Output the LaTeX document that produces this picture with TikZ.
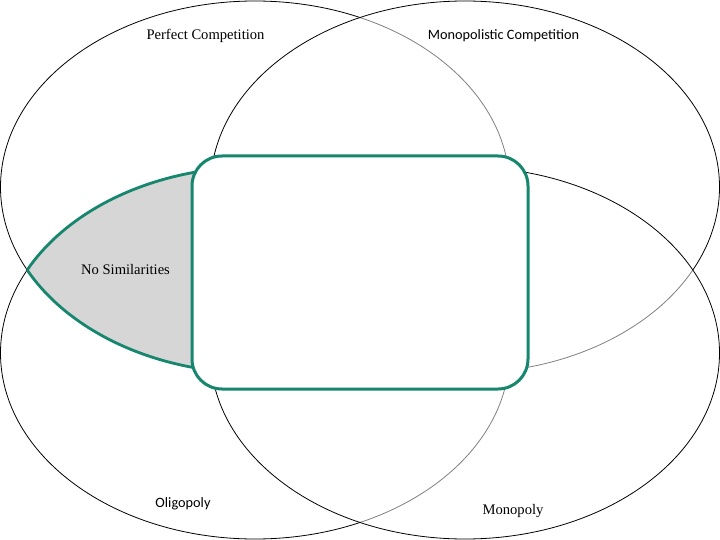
\documentclass[tikz,border=0pt]{standalone}
\usepackage{fontspec}
\setmainfont{Liberation Serif}
\newfontfamily\calibri{Carlito}
\definecolor{vgreen}{RGB}{22,134,110}
\definecolor{lensgray}{RGB}{214,214,214}
\begin{document}
\begin{tikzpicture}[x=1pt,y=-1pt,
  venn/.style={draw=black, line width=0.8pt, fill=white, fill opacity=0.5},
  lensedge/.style={draw=vgreen, line width=2.8pt},
  lbl/.style={font=\fontsize{14.6}{17}\selectfont, inner sep=0pt, text=black},
  slbl/.style={font=\calibri\fontsize{14.3}{17}\selectfont, inner sep=0pt, text=black}]
\useasboundingbox (0,0) rectangle (720,540);
\fill[white] (0,0) rectangle (720,540);
% four overlapping ellipses
\path[venn] (255,187) ellipse [x radius=254.5, y radius=186];
\path[venn] (465,187) ellipse [x radius=254.5, y radius=186];
\path[venn] (255,353) ellipse [x radius=254.5, y radius=186];
\path[venn] (465,353) ellipse [x radius=254.5, y radius=186];
% shaded lens (Perfect Competition and Oligopoly)
\begin{scope}
  \clip (255,187) ellipse [x radius=254.5, y radius=186];
  \fill[lensgray] (255,353) ellipse [x radius=254.5, y radius=186];
  \draw[lensedge] (255,353) ellipse [x radius=254.5, y radius=186];
\end{scope}
\begin{scope}
  \clip (255,353) ellipse [x radius=254.5, y radius=186];
  \draw[lensedge] (255,187) ellipse [x radius=254.5, y radius=186];
\end{scope}
% central rounded box
\node[draw=vgreen, line width=3pt, fill=white, rounded corners=30pt,
      minimum width=336pt, minimum height=233pt, inner sep=0pt] (core) at (360,272.5) {};
% labels
\node[lbl] (pc) at (205.5,36) {Perfect Competition};
\node[slbl] (mc) at (503.5,36) {Monopolistic Competition};
\node[lbl] (ns) at (125.5,270) {No Similarities};
\node[slbl] (ol) at (183,504) {Oligopoly};
\node[lbl] (mo) at (513,511) {Monopoly};
\end{tikzpicture}
\end{document}
